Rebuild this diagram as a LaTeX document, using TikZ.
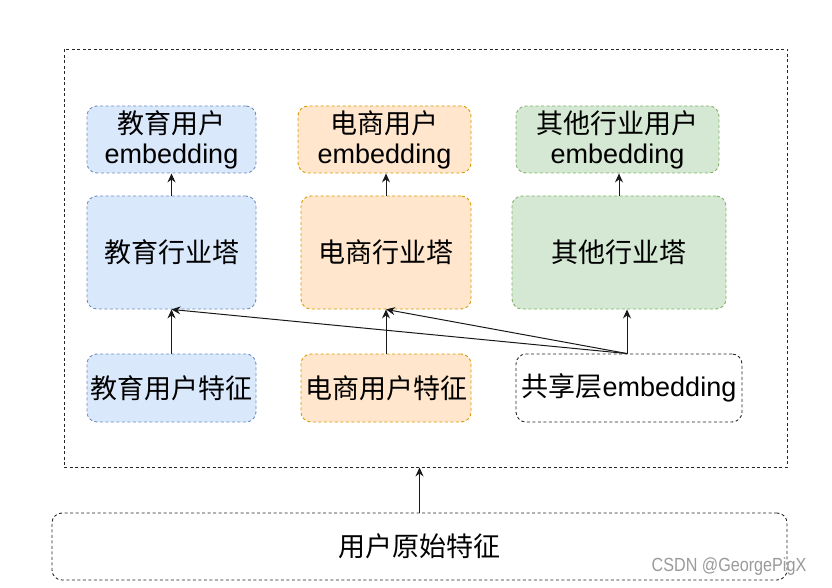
\documentclass[tikz,border=0pt]{standalone}
\usepackage{fontspec}
\setmainfont{Liberation Sans}
\newfontfamily\cjk{Noto Sans CJK SC}
\usetikzlibrary{arrows.meta}
\definecolor{bluefill}{HTML}{DAE8FC}
\definecolor{blueline}{HTML}{6C8EBF}
\definecolor{orangefill}{HTML}{FFE6CC}
\definecolor{orangeline}{HTML}{D79B00}
\definecolor{greenfill}{HTML}{D5E8D4}
\definecolor{greenline}{HTML}{82B366}
\definecolor{wmark}{HTML}{9A9A9A}
\begin{document}
\begin{tikzpicture}[x=1pt,y=-1pt,
  box/.style={draw, dash pattern=on 3pt off 2.5pt, line width=0.9pt, rounded corners=10pt,
    inner sep=0pt, align=center, font=\fontsize{27}{30}\selectfont},
  bluebox/.style={box, fill=bluefill, draw=blueline},
  orangebox/.style={box, fill=orangefill, draw=orangeline},
  greenbox/.style={box, fill=greenfill, draw=greenline},
  plainbox/.style={box, draw=black!85},
  conn/.style={draw=black!90, line width=1pt, -{Stealth[length=9pt,width=8pt,inset=3pt]}},
]
\useasboundingbox (0,0) rectangle (832,588);
% outer frame
\node[draw=black!85, dash pattern=on 3pt off 2.5pt, line width=0.9pt, minimum width=723pt, minimum height=418pt, inner sep=0pt] (outer) at (425.5,258) {};
% top embeddings
\node[bluebox, minimum width=169pt, minimum height=67pt] (eduemb) at (171.5,139.5) {{\cjk 教育用户}\\embedding};
\node[orangebox, minimum width=173pt, minimum height=67pt] (ecomemb) at (384.5,139.5) {{\cjk 电商用户}\\embedding};
\node[greenbox, minimum width=203pt, minimum height=67pt] (othemb) at (617.5,139.5) {{\cjk 其他行业用户}\\embedding};
% towers
\node[bluebox, minimum width=169pt, minimum height=113pt] (edutower) at (171.5,252.5) {\cjk 教育行业塔};
\node[orangebox, minimum width=170pt, minimum height=113pt] (ecomtower) at (386,252.5) {\cjk 电商行业塔};
\node[greenbox, minimum width=214pt, minimum height=113pt] (othtower) at (619,252.5) {\cjk 其他行业塔};
% features
\node[bluebox, minimum width=169pt, minimum height=68pt] (edufeat) at (171.5,388) {\cjk 教育用户特征};
\node[orangebox, minimum width=170pt, minimum height=68pt] (ecomfeat) at (386,388) {\cjk 电商用户特征};
\node[plainbox, minimum width=226pt, minimum height=68pt] (shared) at (629,388) {{\cjk 共享层}embedding};
% raw
\node[plainbox, minimum width=735pt, minimum height=67pt] (raw) at (419.5,546.5) {\cjk 用户原始特征};
% connectors
\coordinate (sh) at ([xshift=-2pt]shared.north);
\draw[conn] (edutower.north) -- (edutower.north |- eduemb.south);
\draw[conn] (ecomtower.north) -- (ecomtower.north |- ecomemb.south);
\draw[conn] (othtower.north) -- (othtower.north |- othemb.south);
\draw[conn] (edufeat.north) -- (edutower.south);
\draw[conn] (ecomfeat.north) -- (ecomtower.south);
\draw[conn] (sh) -- (sh |- othtower.south);
\draw[conn] (sh) -- (edutower.south);
\draw[conn] (sh) -- (ecomtower.south);
\draw[conn] (raw.north) -- (raw.north |- outer.south);
% watermark
\node[text=wmark, font=\fontsize{19}{22}\selectfont, xscale=0.85, inner sep=0pt] (wm) at (729,567) {CSDN @GeorgePigX};
\end{tikzpicture}
\end{document}
